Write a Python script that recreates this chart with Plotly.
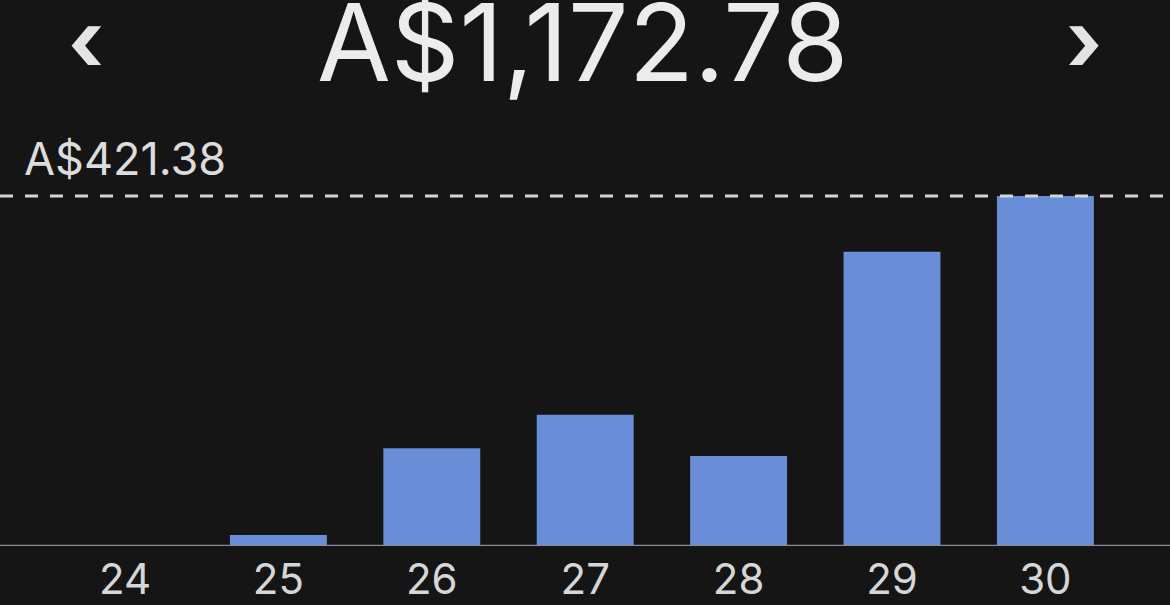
import plotly.graph_objects as go

# === data ===
days = ["24", "25", "26", "27", "28", "29", "30"]
spend = [0.0, 13.2, 117.6, 157.9, 108.4, 354.3, 421.38]
total_label = "A$1,172.78"
max_val = max(spend)

bg = "#151515"
bar_c = "#6a8dd8"

W, H = 1170, 605
top_px, base_px = 130, 546          # plot area in pixels
plot_h = base_px - top_px
y_top = max_val * plot_h / 350.0     # max bar reaches ~350px above baseline

fig = go.Figure()

fig.add_trace(go.Bar(
    x=list(range(len(days))), y=spend,
    marker=dict(color=bar_c, line=dict(width=0)),
    hoverinfo="skip"
))

# dashed max line
fig.add_shape(type="line", xref="paper", yref="y",
              x0=0, x1=1, y0=max_val, y1=max_val,
              line=dict(color="#d4d4d4", width=3, dash="13px,12px"), layer="above")

# baseline
fig.add_shape(type="line", xref="paper", yref="y",
              x0=0, x1=1, y0=0, y1=0,
              line=dict(color="#8a8d94", width=2.5), layer="above")

fig.add_annotation(xref="paper", yref="y", x=22 / W, y=max_val,
                   xanchor="left", yanchor="bottom", yshift=8,
                   text=f"A${max_val:,.2f}", showarrow=False,
                   font=dict(family="Inter", size=45, color="#dcdcdc"))

title_y = (base_px - 42) / plot_h
fig.add_annotation(xref="paper", yref="paper", x=582 / W, y=title_y,
                   xanchor="center", yanchor="middle",
                   text=total_label, showarrow=False,
                   font=dict(family="Inter", size=107, color="#ececec"))

arrow_y = (base_px - 40) / plot_h
fig.add_annotation(xref="paper", yref="paper", x=86 / W, y=arrow_y,
                   xanchor="center", yanchor="middle", text="<b>‹</b>", showarrow=False,
                   font=dict(family="Inter", size=84, color="#e4e4e4"))
fig.add_annotation(xref="paper", yref="paper", x=1084 / W, y=arrow_y,
                   xanchor="center", yanchor="middle", text="<b>›</b>", showarrow=False,
                   font=dict(family="Inter", size=84, color="#e4e4e4"))

sp = 153.4
fig.update_xaxes(
    tickmode="array", tickvals=list(range(len(days))), ticktext=days,
    range=[-125 / sp, -125 / sp + W / sp],
    showgrid=False, zeroline=False, showline=False, ticks="",
    ticklabelstandoff=5, automargin=False,
    tickfont=dict(family="Inter", size=42, color="#d6d6d6"),
    fixedrange=True
)
fig.update_yaxes(range=[0, y_top], visible=False, fixedrange=True, automargin=False)

fig.update_layout(
    width=W, height=H,
    paper_bgcolor=bg, plot_bgcolor=bg,
    margin=dict(l=0, r=0, t=top_px, b=H - base_px),
    bargap=0.368, showlegend=False
)

fig.write_html("out.html", config={"displayModeBar": False},
               post_script="document.body.style.margin='0';document.body.style.background='#151515';")
